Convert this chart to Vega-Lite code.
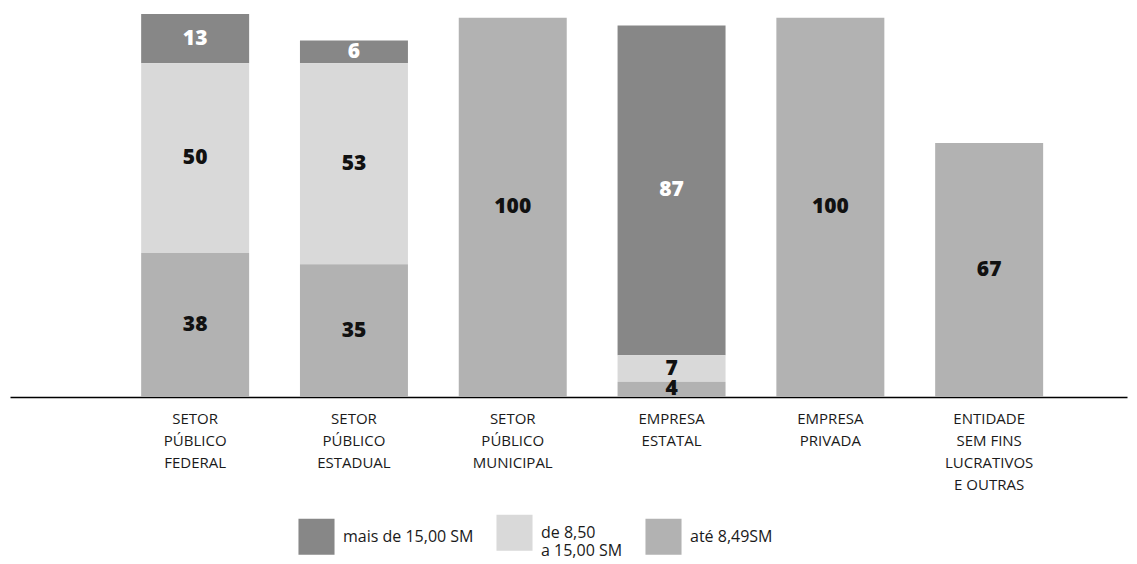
{
  "$schema": "https://vega.github.io/schema/vega-lite/v6.json",
  "autosize": "none",
  "width": 1117,
  "height": 383,
  "padding": {"left": 10, "top": 14, "right": 10, "bottom": 167},
  "background": "white",
  "config": {"view": {"stroke": null}, "font": "Open Sans"},
  "data": {"values": [
    {"setor": "SETOR PÚBLICO FEDERAL", "faixa": "mais de 15,00 SM", "valor": 13},
    {"setor": "SETOR PÚBLICO FEDERAL", "faixa": "de 8,50 a 15,00 SM", "valor": 50},
    {"setor": "SETOR PÚBLICO FEDERAL", "faixa": "até 8,49SM", "valor": 38},
    {"setor": "SETOR PÚBLICO ESTADUAL", "faixa": "mais de 15,00 SM", "valor": 6},
    {"setor": "SETOR PÚBLICO ESTADUAL", "faixa": "de 8,50 a 15,00 SM", "valor": 53},
    {"setor": "SETOR PÚBLICO ESTADUAL", "faixa": "até 8,49SM", "valor": 35},
    {"setor": "SETOR PÚBLICO MUNICIPAL", "faixa": "até 8,49SM", "valor": 100},
    {"setor": "EMPRESA ESTATAL", "faixa": "mais de 15,00 SM", "valor": 87},
    {"setor": "EMPRESA ESTATAL", "faixa": "de 8,50 a 15,00 SM", "valor": 7},
    {"setor": "EMPRESA ESTATAL", "faixa": "até 8,49SM", "valor": 4},
    {"setor": "EMPRESA PRIVADA", "faixa": "até 8,49SM", "valor": 100},
    {"setor": "ENTIDADE SEM FINS LUCRATIVOS E OUTRAS", "faixa": "até 8,49SM", "valor": 67}
  ]},
  "transform": [
    {"stack": "valor", "groupby": ["setor"], "sort": [{"field": "faixa", "order": "ascending"}], "as": ["y0", "y1"]},
    {"calculate": "(datum.y0 + datum.y1) / 2", "as": "mid"}
  ],
  "encoding": {
    "x": {
      "field": "setor", "type": "nominal",
      "sort": ["SETOR PÚBLICO FEDERAL", "SETOR PÚBLICO ESTADUAL", "SETOR PÚBLICO MUNICIPAL", "EMPRESA ESTATAL", "EMPRESA PRIVADA", "ENTIDADE SEM FINS LUCRATIVOS E OUTRAS"],
      "scale": {"paddingInner": 0.32, "paddingOuter": 0.677, "align": 0.61},
      "axis": {
        "title": null, "labelAngle": 0, "ticks": false,
        "domainColor": "#000000", "domainWidth": 1.5,
        "labelFont": "Open Sans", "labelFontSize": 15, "labelColor": "#1a1a1a",
        "labelPadding": 14, "labelLineHeight": 22, "labelBaseline": "top",
        "labelExpr": "split(replace(replace(datum.label, 'SEM FINS', 'SEM\u00a0FINS'), 'E OUTRAS', 'E\u00a0OUTRAS'), ' ')"
      }
    }
  },
  "layer": [
    {
      "mark": {"type": "bar"},
      "encoding": {
        "y": {"field": "y0", "type": "quantitative", "scale": {"domain": [0, 101], "nice": false}, "axis": null},
        "y2": {"field": "y1"},
        "color": {
          "field": "faixa", "type": "nominal",
          "scale": {"domain": ["mais de 15,00 SM", "de 8,50 a 15,00 SM", "até 8,49SM"], "range": ["#878787", "#d9d9d9", "#b2b2b2"]},
          "legend": {
            "title": null, "orient": "none", "direction": "horizontal",
            "legendX": 288, "legendY": 500, "padding": 0,
            "symbolType": "square", "symbolSize": 1300, "symbolStrokeWidth": 0, "symbolOpacity": 1,
            "labelFont": "Open Sans", "labelFontSize": 16, "labelColor": "#1a1a1a", "labelOffset": 8,
            "labelLineHeight": 19, "columnPadding": 22,
            "labelExpr": "datum.label == 'de 8,50 a 15,00 SM' ? ['de 8,50', 'a 15,00 SM'] : datum.label"
          }
        }
      }
    },
    {
      "mark": {"type": "text", "font": "Open Sans", "fontWeight": 800, "fontSize": 21, "baseline": "middle"},
      "encoding": {
        "y": {"field": "mid", "type": "quantitative"},
        "text": {"field": "valor", "type": "quantitative"},
        "color": {"condition": {"test": "datum.faixa == 'mais de 15,00 SM'", "value": "#ffffff"}, "value": "#111111"}
      }
    }
  ]
}
